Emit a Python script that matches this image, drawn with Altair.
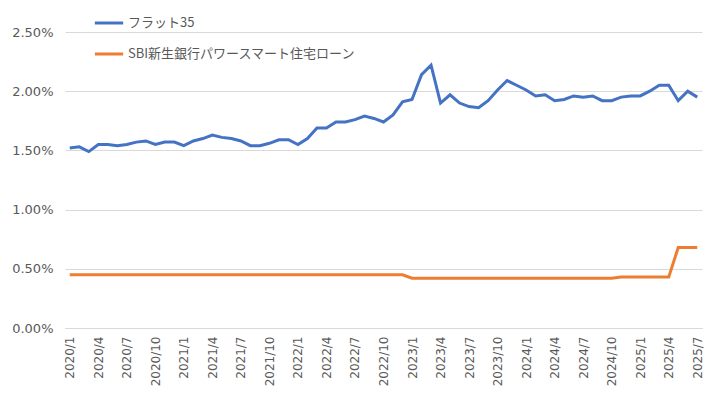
import altair as alt
import pandas as pd

months = [f"{y}/{m}" for y in range(2020, 2026) for m in range(1, 13)][:67]
tick_labels = months[::3]
series_names = ["フラット35", "SBI新生銀行パワースマート住宅ローン"]

flat35 = [1.52, 1.53, 1.49, 1.55, 1.55, 1.54, 1.55, 1.57, 1.58, 1.55,
          1.57, 1.57, 1.54, 1.58, 1.60, 1.63, 1.61, 1.60, 1.58, 1.54,
          1.54, 1.56, 1.59, 1.59, 1.55, 1.60, 1.69, 1.69, 1.74, 1.74,
          1.76, 1.79, 1.77, 1.74, 1.80, 1.91, 1.93, 2.14, 2.22, 1.90,
          1.97, 1.90, 1.87, 1.86, 1.92, 2.01, 2.09, 2.05, 2.01, 1.96,
          1.97, 1.92, 1.93, 1.96, 1.95, 1.96, 1.92, 1.92, 1.95, 1.96,
          1.96, 2.00, 2.05, 2.05, 1.92, 2.00, 1.95]

sbi = [0.45, 0.45, 0.45, 0.45, 0.45, 0.45, 0.45, 0.45, 0.45, 0.45,
       0.45, 0.45, 0.45, 0.45, 0.45, 0.45, 0.45, 0.45, 0.45, 0.45,
       0.45, 0.45, 0.45, 0.45, 0.45, 0.45, 0.45, 0.45, 0.45, 0.45,
       0.45, 0.45, 0.45, 0.45, 0.45, 0.45, 0.42, 0.42, 0.42, 0.42,
       0.42, 0.42, 0.42, 0.42, 0.42, 0.42, 0.42, 0.42, 0.42, 0.42,
       0.42, 0.42, 0.42, 0.42, 0.42, 0.42, 0.42, 0.42, 0.43, 0.43,
       0.43, 0.43, 0.43, 0.43, 0.68, 0.68, 0.68]

colors = ["#4472C4", "#ED7D31"]
y_ticks = [0, 0.005, 0.01, 0.015, 0.02, 0.025]

df = pd.DataFrame({
    "month": months + months,
    "rate": [v / 100 for v in flat35] + [v / 100 for v in sbi],
    "series": [series_names[0]] * len(months) + [series_names[1]] * len(months),
})

axis_font = "DejaVu Sans"
text_color = "#595959"
grid_color = "#d9d9d9"

chart = alt.Chart(df).mark_line(strokeWidth=3).encode(
    x=alt.X(
        "month:N",
        sort=months,
        scale=alt.Scale(type="point", padding=0.5),
        axis=alt.Axis(
            values=tick_labels, labelAngle=-90, title=None, ticks=False, grid=False,
            domainColor=grid_color, labelFont=axis_font, labelFontSize=12,
            labelColor=text_color, labelPadding=8,
        ),
    ),
    y=alt.Y(
        "rate:Q",
        scale=alt.Scale(domain=[0, 0.025], nice=False),
        axis=alt.Axis(
            values=y_ticks, format=".2%", title=None, domain=False, ticks=False,
            gridColor=grid_color, labelFont=axis_font, labelFontSize=13,
            labelColor=text_color, labelPadding=12,
        ),
    ),
    color=alt.Color(
        "series:N",
        scale=alt.Scale(domain=series_names, range=colors),
        legend=alt.Legend(
            title=None, orient="none", legendX=28, legendY=-25, direction="vertical",
            symbolType="stroke", symbolSize=800, symbolStrokeWidth=3,
            labelFont="Noto Sans CJK JP", labelFontSize=13, labelColor=text_color,
            labelOffset=3, rowPadding=8, labelLimit=400,
        ),
    ),
).properties(
    width=637, height=296, autosize="none",
    padding={"left": 57, "top": 24, "right": 7, "bottom": 62},
).configure_view(stroke=None)

chart.save("out.html", embed_options={"renderer": "svg", "actions": False})
